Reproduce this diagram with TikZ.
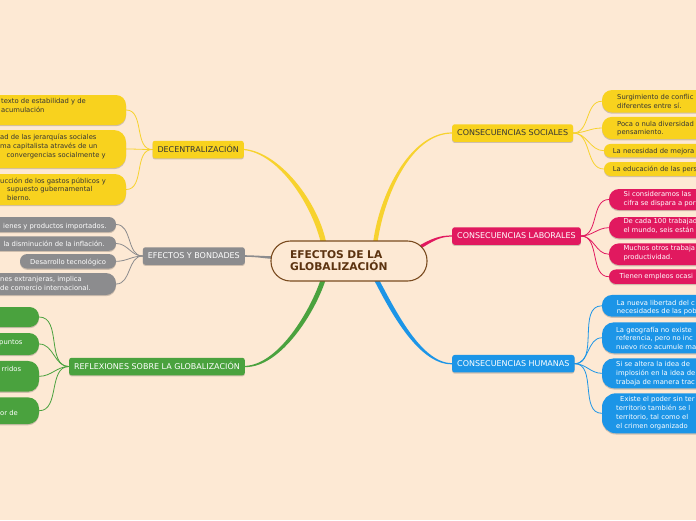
\documentclass[tikz,border=0pt]{standalone}
\usepackage{fontspec}
\setmainfont{DejaVu Sans}
\usetikzlibrary{calc,shadows}
\definecolor{bgc}{HTML}{FDE9D4}
\definecolor{ylw}{HTML}{F8D21E}
\definecolor{ylwline}{HTML}{F7D22E}
\definecolor{gry}{HTML}{8C8C8E}
\definecolor{grn}{HTML}{4AA23E}
\definecolor{pnk}{HTML}{E1195F}
\definecolor{blu}{HTML}{1C95E7}
\definecolor{brn}{HTML}{7A4B1F}
\definecolor{brntxt}{HTML}{5C3310}
\definecolor{txtdark}{HTML}{353535}
\pgfdeclarelayer{back}
\pgfsetlayers{back,main}
\begin{document}
\begin{tikzpicture}[x=1pt,y=-1pt,
  shad/.style={drop shadow={shadow xshift=0pt,shadow yshift=-1.2pt,opacity=0.18,fill=black}},
  br/.style={rectangle, rounded corners=2.5pt, minimum height=17.5pt, inner xsep=5pt, inner ysep=0pt,
    text height=5.9pt, text depth=0pt, font=\fontsize{8}{9}\selectfont, shad},
  pill/.style={rectangle, inner sep=0pt, shad},
  lt/.style={anchor=north west, inner sep=0pt, align=left, font=\fontsize{6.8}{8.7}\selectfont,
    text=txtdark, execute at begin node=\strut},
  ltw/.style={lt, text=white},
  lk/.style={line width=0.8pt, line cap=round},
  centre/.style={draw=brn, line width=1.1pt, fill=bgc, rounded corners=19.5pt, minimum width=156pt,
    minimum height=40pt, text width=118pt, inner xsep=19pt, align=left,
    font=\bfseries\fontsize{10.7}{12}\selectfont, text=brntxt}
]
\useasboundingbox (0,0) rectangle (696,520);
\begin{pgfonlayer}{back}
\fill[bgc] (0,0) rectangle (696,520);
\end{pgfonlayer}
\clip (0,0) rectangle (696,520);

% centre
\node[centre] (c) at (349,261) {EFECTOS DE LA\\GLOBALIZACIÓN};

% branches
\node[br, fill=ylw, text=txtdark, anchor=east] (dec) at (244,149.5) {DECENTRALIZACIÓN};
\node[br, fill=gry, text=white, anchor=east] (efb) at (245,256) {EFECTOS Y BONDADES};
\node[br, fill=grn, text=white, anchor=east] (refl) at (245,366.5) {REFLEXIONES SOBRE LA GLOBALIZACIÓN};
\node[br, fill=ylw, text=txtdark, anchor=west] (soc) at (452,133) {CONSECUENCIAS SOCIALES};
\node[br, fill=pnk, text=white, anchor=west] (lab) at (452,236) {CONSECUENCIAS LABORALES};
\node[br, fill=blu, text=white, anchor=west] (hum) at (452,363.7) {CONSECUENCIAS HUMANAS};

% left yellow leaves
\node[pill, fill=ylw, minimum width=220pt, minimum height=30pt, rounded corners=10pt] (d1) at (16,110) {};
\node[pill, fill=ylw, minimum width=220pt, minimum height=38pt, rounded corners=12pt] (d2) at (16,149) {};
\node[pill, fill=ylw, minimum width=220pt, minimum height=31pt, rounded corners=11pt] (d3) at (16,189.5) {};
\node[lt] (d1t) at (1,98.5) {texto de estabilidad y de\\acumulación};
\node[lt] (d2t) at (0,134.3) {ad de las jerarquías sociales\\ma capitalista através de un\\\hspace*{6.5pt}convergencias socialmente y};
\node[lt] (d3t) at (0,177.5) {ucción de los gastos públicos y\\\hspace*{7pt}supuesto gubernamental\\\hspace*{7pt}bierno.};

% gray leaves
\node[pill, fill=gry, minimum width=220pt, minimum height=15pt, rounded corners=7pt] (g1) at (6,224.5) {};
\node[pill, fill=gry, minimum width=220pt, minimum height=14.5pt, rounded corners=7pt] (g2) at (6,243.5) {};
\node[pill, fill=gry, minimum width=96pt, minimum height=14.5pt, rounded corners=7pt] (g3) at (68,261.3) {};
\node[pill, fill=gry, minimum width=220pt, minimum height=22pt, rounded corners=10pt] (g4) at (6,284) {};
\node[ltw] (g1t) at (3,221.8) {ienes y productos importados.};
\node[ltw] (g2t) at (3.3,239.8) {la disminución de la inflación.};
\node[ltw] (g3t) at (30,258.3) {Desarrollo tecnológico};
\node[ltw] (g4t) at (0,276.6) {nes extranjeras, implica\\de comercio internacional.};

% green leaves
\node[pill, fill=grn, minimum width=220pt, minimum height=20pt, rounded corners=9.5pt] (r1) at (-71,317) {};
\node[pill, fill=grn, minimum width=220pt, minimum height=22pt, rounded corners=10pt] (r2) at (-71,344) {};
\node[pill, fill=grn, minimum width=220pt, minimum height=30.7pt, rounded corners=11pt] (r3) at (-71,376.3) {};
\node[pill, fill=grn, minimum width=220pt, minimum height=26.7pt, rounded corners=11pt] (r4) at (-71,410.7) {};
\node[ltw] (r2t) at (-1,338.3) {puntos};
\node[ltw] (r3t) at (1.5,365.6) {rridos};
\node[ltw] (r4t) at (0,408.9) {or de};

% right yellow leaves
\node[pill, fill=ylw, minimum width=130pt, minimum height=22.5pt, rounded corners=10pt] (s1) at (667,101.25) {};
\node[pill, fill=ylw, minimum width=130pt, minimum height=22.3pt, rounded corners=10pt] (s2) at (667,128) {};
\node[pill, fill=ylw, minimum width=130pt, minimum height=13.5pt, rounded corners=6.5pt] (s3) at (669,150.7) {};
\node[pill, fill=ylw, minimum width=130pt, minimum height=14pt, rounded corners=7pt] (s4) at (669,169) {};
\node[lt] (s1t) at (617,94.3) {Surgimiento de conflic\\diferentes entre sí.};
\node[lt] (s2t) at (617,120.9) {Poca o nula diversidad\\pensamiento.};
\node[lt] (s3t) at (612.7,147.3) {La necesidad de mejora};
\node[lt] (s4t) at (612.7,165.6) {La educación de las pers};

% pink leaves
\node[pill, fill=pnk, minimum width=130pt, minimum height=21pt, rounded corners=10pt] (p1) at (674,199.5) {};
\node[pill, fill=pnk, minimum width=130pt, minimum height=21.3pt, rounded corners=10pt] (p2) at (674,227.7) {};
\node[pill, fill=pnk, minimum width=130pt, minimum height=21.7pt, rounded corners=10pt] (p3) at (674,254.2) {};
\node[pill, fill=pnk, minimum width=130pt, minimum height=14.5pt, rounded corners=7pt] (p4) at (674,276.7) {};
\node[ltw] (p1t) at (623.5,191.6) {Si consideramos las\\cifra se dispara a por};
\node[ltw] (p2t) at (623.3,218.3) {De cada 100 trabajad\\el mundo, seis están};
\node[ltw] (p3t) at (623.3,245.6) {Muchos otros trabaja\\productividad.};
\node[ltw] (p4t) at (619.3,272.3) {Tienen empleos ocasi};

% blue leaves
\node[pill, fill=blu, minimum width=130pt, minimum height=21.7pt, rounded corners=10pt] (b1) at (667,305.8) {};
\node[pill, fill=blu, minimum width=130pt, minimum height=31pt, rounded corners=12pt] (b2) at (667,337.8) {};
\node[pill, fill=blu, minimum width=130pt, minimum height=30pt, rounded corners=12pt] (b3) at (667,373.3) {};
\node[pill, fill=blu, minimum width=130pt, minimum height=40pt, rounded corners=14pt] (b4) at (667,413.3) {};
\node[ltw] (b1t) at (616.7,299.9) {La nueva libertad del c\\necesidades de las pob};
\node[ltw] (b2t) at (616,326.6) {La geografía no existe\\referencia, pero no inc\\nuevo rico acumule ma};
\node[ltw] (b3t) at (616,361.6) {Si se altera la idea de\\implosión en la idea de\\trabaja de manera trac};
\node[ltw] (b4t) at (616,396.6) {\hspace*{4pt}Existe el poder sin ter\\territorio también se l\\territorio, tal como el\\el crimen organizado};

\begin{pgfonlayer}{back}
% main tapered connectors
\fill[ylwline] ($(dec.east)+(0,-0.6)$) .. controls (281,152.4) and (319.5,204) .. (326.7,245)
   -- (321.3,245) .. controls (313,206) and (279,153.6) .. ($(dec.east)+(0,0.6)$) -- cycle;
\fill[ylwline] ($(soc.west)+(0,-0.6)$) .. controls (410,132.4) and (378.5,195) .. (372.8,245)
   -- (377.2,245) .. controls (383.5,196) and (411,133.6) .. ($(soc.west)+(0,0.6)$) -- cycle;
\fill[pnk] ($(lab.west)+(0,-0.6)$) .. controls (440,235.4) and (432,238.3) .. (418.5,246)
   -- (420,249) .. controls (433.5,240.7) and (440,236.6) .. ($(lab.west)+(0,0.6)$) -- cycle;
\fill[blu] ($(hum.west)+(0,-0.6)$) .. controls (420,363.4) and (392.5,304) .. (377.5,277)
   -- (372.5,277) .. controls (387.5,306) and (417,364.8) .. ($(hum.west)+(0,0.6)$) -- cycle;
\fill[grn] ($(refl.east)+(0,0.6)$) .. controls (281,367.6) and (316.5,311) .. (326.5,277)
   -- (321.5,277) .. controls (311.5,309) and (279,364.6) .. ($(refl.east)+(0,-0.6)$) -- cycle;
\fill[gry] ($(efb.east)+(0,-0.8)$) .. controls (258,255.5) and (265,256.2) .. (275,256.3)
   -- (275,259) .. controls (265,258.7) and (258,256.8) .. ($(efb.east)+(0,0.8)$) -- cycle;

% leaf connectors
\foreach \n in {d1,d2,d3} \draw[lk, ylwline] (dec.west) to[out=180,in=0] (\n.east);
\foreach \n in {g1,g2,g3,g4} \draw[lk, gry] (efb.west) to[out=180,in=0] (\n.east);
\foreach \n in {r1,r2,r3,r4} \draw[lk, grn] (refl.west) to[out=180,in=0] (\n.east);
\foreach \n in {s1,s2,s3,s4} \draw[lk, ylwline] (soc.east) to[out=0,in=180] (\n.west);
\foreach \n in {p1,p2,p3,p4} \draw[lk, pnk] (lab.east) to[out=0,in=180] (\n.west);
\foreach \n in {b1,b2,b3,b4} \draw[lk, blu] (hum.east) to[out=0,in=180] (\n.west);
\end{pgfonlayer}
\end{tikzpicture}
\end{document}
